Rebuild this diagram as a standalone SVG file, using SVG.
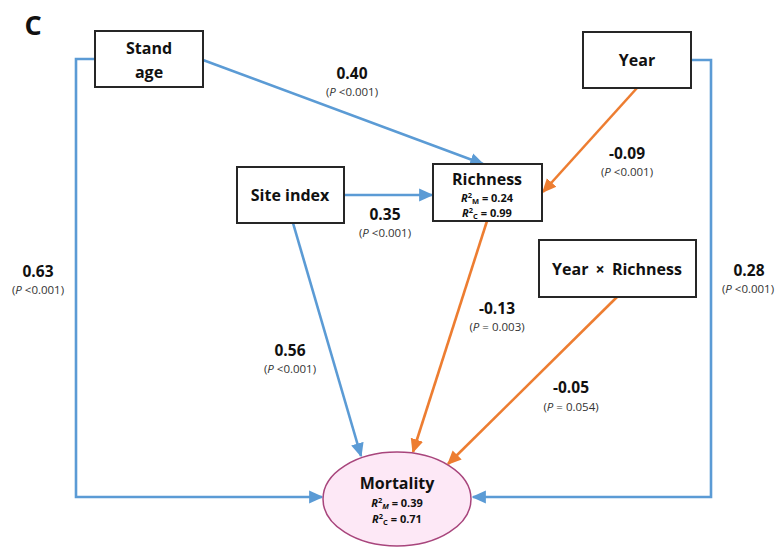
<svg xmlns="http://www.w3.org/2000/svg" width="778" height="549" viewBox="0 0 778 549">
<style>
.box{fill:#fff;stroke:#262626;stroke-width:2}
.t{font-family:"Open Sans","Liberation Sans",sans-serif;fill:#111;text-anchor:middle}
.nl{font-size:16px;font-weight:bold}
.r2{font-size:11px;font-weight:bold}
.coef{font-size:15.5px;font-weight:bold}
.p{font-size:11.5px;fill:#333}
.b{fill:none;stroke:#5b9bd5;stroke-width:2.6}
.o{fill:none;stroke:#ed7d31;stroke-width:2.6}
</style>
<defs>
<marker id="ab" viewBox="0 0 10 10" refX="9" refY="5" markerWidth="5.5" markerHeight="5.5" orient="auto" markerUnits="strokeWidth"><path d="M0,0.5 L10,5 L0,9.5 z" fill="#5b9bd5"/></marker>
<marker id="ao" viewBox="0 0 10 10" refX="9" refY="5" markerWidth="5.5" markerHeight="5.5" orient="auto" markerUnits="strokeWidth"><path d="M0,0.5 L10,5 L0,9.5 z" fill="#ed7d31"/></marker>
</defs>
<rect width="778" height="549" fill="#fff"/>
<text x="33" y="35" class="t" style="font-size:27px;font-weight:bold">C</text>
<g id="connectors">
<polyline class="b" points="95,59 76,59 76,497 322,497" marker-end="url(#ab)"/>
<polyline class="b" points="691,60 711,60 711,497 473,497" marker-end="url(#ab)"/>
<line class="b" x1="203" y1="60" x2="483" y2="164" marker-end="url(#ab)"/>
<line class="b" x1="344" y1="195" x2="432" y2="195" marker-end="url(#ab)"/>
<line class="o" x1="637" y1="88" x2="543" y2="192" marker-end="url(#ao)"/>
<line class="b" x1="293" y1="223" x2="361" y2="456" marker-end="url(#ab)"/>
<line class="o" x1="487" y1="221" x2="413" y2="452" marker-end="url(#ao)"/>
<line class="o" x1="617" y1="297" x2="448" y2="464" marker-end="url(#ao)"/>
</g>
<g id="labels">
<text x="352" y="79" class="t coef">0.40</text>
<text x="352" y="96" class="t p">(<tspan font-style="italic">P</tspan> &lt;0.001)</text>
<text x="627" y="159" class="t coef">-0.09</text>
<text x="627" y="176" class="t p">(<tspan font-style="italic">P</tspan> &lt;0.001)</text>
<text x="385" y="220" class="t coef">0.35</text>
<text x="385" y="237" class="t p">(<tspan font-style="italic">P</tspan> &lt;0.001)</text>
<text x="38" y="277" class="t coef">0.63</text>
<text x="38" y="294" class="t p">(<tspan font-style="italic">P</tspan> &lt;0.001)</text>
<text x="290" y="356" class="t coef">0.56</text>
<text x="290" y="373" class="t p">(<tspan font-style="italic">P</tspan> &lt;0.001)</text>
<text x="497" y="314" class="t coef">-0.13</text>
<text x="497" y="331" class="t p">(<tspan font-style="italic">P</tspan> = 0.003)</text>
<text x="749" y="276" class="t coef">0.28</text>
<text x="748" y="293" class="t p">(<tspan font-style="italic">P</tspan> &lt;0.001)</text>
<text x="571" y="393" class="t coef">-0.05</text>
<text x="571" y="411" class="t p">(<tspan font-style="italic">P</tspan> = 0.054)</text>
</g>
<g id="stand-age">
<rect class="box" x="95" y="31" width="108" height="56"/>
<text x="149" y="54" class="t nl">Stand</text>
<text x="149" y="78" class="t nl">age</text>
</g>
<g id="year">
<rect class="box" x="583" y="32" width="108" height="56"/>
<text x="637" y="66" class="t nl">Year</text>
</g>
<g id="site-index">
<rect class="box" x="237" y="167" width="107" height="56"/>
<text x="290" y="201" class="t nl">Site index</text>
</g>
<g id="richness">
<rect class="box" x="433" y="164" width="109" height="57"/>
<text x="487" y="185" class="t nl">Richness</text>
<text x="487" y="202" class="t r2"><tspan font-style="italic">R</tspan><tspan font-size="7.5" dy="-4">2</tspan><tspan font-size="7.5" dy="6">M</tspan><tspan dy="-2"> = 0.24</tspan></text>
<text x="487" y="217" class="t r2"><tspan font-style="italic">R</tspan><tspan font-size="7.5" dy="-4">2</tspan><tspan font-size="7.5" dy="6">C</tspan><tspan dy="-2"> = 0.99</tspan></text>
</g>
<g id="year-x-richness">
<rect class="box" x="539" y="240" width="157" height="57"/>
<text x="617" y="275" class="t nl" style="word-spacing:3px">Year × Richness</text>
</g>
<g id="mortality">
<ellipse cx="397" cy="499" rx="74" ry="47" fill="#fde8f6" stroke="#a8457c" stroke-width="1.5"/>
<text x="397" y="489" class="t nl">Mortality</text>
<text x="397" y="507" class="t r2"><tspan font-style="italic">R</tspan><tspan font-size="7.5" dy="-4">2</tspan><tspan font-size="7.5" dy="6" font-style="italic">M</tspan><tspan dy="-2"> = 0.39</tspan></text>
<text x="397" y="523" class="t r2"><tspan font-style="italic">R</tspan><tspan font-size="7.5" dy="-4">2</tspan><tspan font-size="7.5" dy="6">C</tspan><tspan dy="-2"> = 0.71</tspan></text>
</g>
</svg>
